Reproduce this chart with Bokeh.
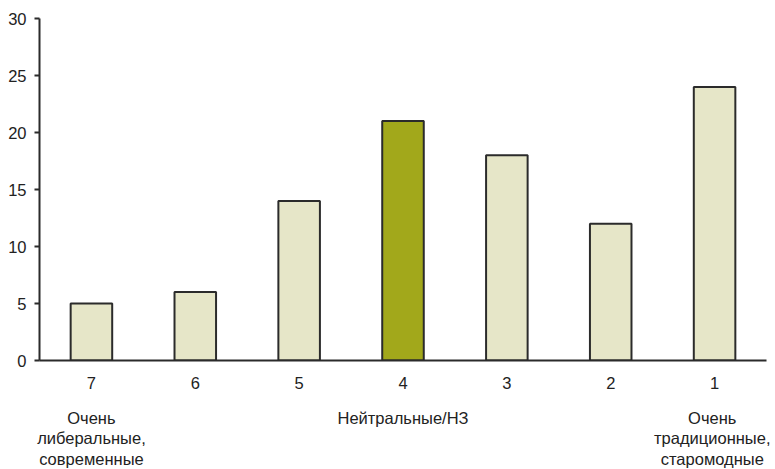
from bokeh.plotting import figure
from bokeh.models import FactorRange, Range1d, FixedTicker, CategoricalAxis, ColumnDataSource
from bokeh.embed import file_html
from bokeh.resources import INLINE

categories = ["7", "6", "5", "4", "3", "2", "1"]
values = [5, 6, 14, 21, 18, 12, 24]
highlight = "4"
y_ticks = [0, 5, 10, 15, 20, 25, 30]
scale_notes = {"7": "Очень\nлиберальные,\nсовременные",
               "4": "Нейтральные/НЗ",
               "1": "Очень\nтрадиционные,\nстаромодные"}

BEIGE = "#E6E6C8"
OLIVE = "#A2A81B"
FONT = "Liberation Sans"
TXT = "#222222"
FS = "16.5px"

colors = [OLIVE if c == highlight else BEIGE for c in categories]
src = ColumnDataSource(dict(x=categories, top=values, color=colors))

FW, FH = 727, 342
L, T = 39, 18
W, H = 770, 468
p = figure(width=W, height=H, x_range=FactorRange(*categories, range_padding=0),
           y_range=Range1d(0, 30), output_backend="svg", toolbar_location=None,
           min_border_left=L, min_border_right=W - L - FW, min_border_top=T,
           min_border_bottom=H - T - FH)
p.frame_width = FW
p.frame_height = FH
p.outline_line_color = None
p.xgrid.visible = False
p.ygrid.visible = False

p.vbar(x="x", top="top", width=0.4, source=src, fill_color="color",
       line_color="#2b2b2b", line_width=2)

ya = p.yaxis[0]
ya.ticker = FixedTicker(ticks=y_ticks)
ya.major_tick_out = 5
ya.major_tick_in = 0
ya.minor_tick_line_color = None
ya.axis_line_color = "#2b2b2b"
ya.axis_line_width = 2
ya.major_tick_line_color = "#2b2b2b"
ya.major_tick_line_width = 2
ya.major_label_text_font = FONT
ya.major_label_text_font_size = FS
ya.major_label_text_color = TXT
ya.major_label_standoff = 8

xa = p.xaxis[0]
xa.major_tick_line_color = None
xa.minor_tick_line_color = None
xa.axis_line_color = "#2b2b2b"
xa.axis_line_width = 2
xa.major_label_text_font = FONT
xa.major_label_text_font_size = FS
xa.major_label_text_color = TXT
xa.major_label_standoff = 10

# second row of labels: unique factors (blank ones padded with spaces)
note_factors = [scale_notes.get(c, " " * (i + 1)) for i, c in enumerate(categories)]
p.extra_x_ranges = {"notes": FactorRange(*note_factors, range_padding=0)}
notes = CategoricalAxis(x_range_name="notes")
notes.axis_line_color = None
notes.major_tick_line_color = None
notes.minor_tick_line_color = None
notes.major_label_text_font = FONT
notes.major_label_text_font_size = FS
notes.major_label_text_color = TXT
notes.major_label_text_line_height = 1.15
notes.major_label_standoff = 11
p.add_layout(notes, "below")

open("out.html", "w").write(file_html(p, INLINE))
